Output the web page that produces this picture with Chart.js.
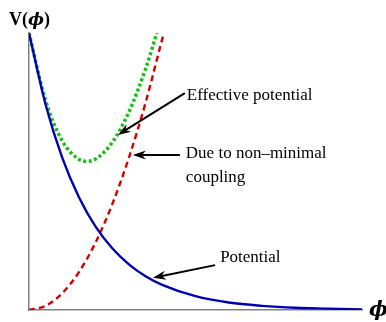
<!DOCTYPE html>
<html>
<head>
<meta charset="utf-8">
<title>V(phi)</title>
<script src="https://cdn.jsdelivr.net/npm/chart.js"></script>
<style>
  html, body { margin: 0; padding: 0; background: #fff; }
  .wrap { width: 386px; height: 322px; }
</style>
</head>
<body>
<div class="wrap"><canvas id="chart"></canvas></div>
<script>
// values (phi and V both in 0..10 units)
var phiPot = [0, 0.5, 1, 1.5, 2, 2.5, 3, 3.5, 4, 5, 6, 7, 8, 9, 10];
var vPot   = [10, 7.41, 5.49, 4.07, 3.01, 2.23, 1.65, 1.22, 0.91, 0.50, 0.27, 0.15, 0.08, 0.05, 0.02];

var phiNm  = [0, 0.5, 1, 1.5, 2, 2.5, 3, 3.5, 4, 4.05];
var vNm    = [0, 0.15, 0.61, 1.37, 2.44, 3.82, 5.5, 7.48, 9.78, 10];

var phiEff = [0, 0.5, 1, 1.5, 1.72, 2, 2.5, 3, 3.5, 3.84];
var vEff   = [10, 7.56, 6.10, 5.44, 5.37, 5.45, 6.05, 7.15, 8.70, 10];

// annotation labels: text lines, text anchor, arrow tail and tip (data units)
var notes = [
  { lines: ["Effective potential"], at: [4.74, 7.58], from: [4.68, 7.83], to: [2.67, 6.32] },
  { lines: ["Due to non\u2013minimal", "coupling"], at: [4.71, 5.5], from: [4.53, 5.6], to: [3.12, 5.6] },
  { lines: ["Potential"], at: [5.74, 1.73], from: [5.59, 1.62], to: [3.72, 1.16] }
];

function pts(xs, ys) {
  return xs.map(function(x, i) { return { x: x, y: ys[i] }; });
}

var annotate = {
  id: "annotate",
  afterDraw: function(chart) {
    var ctx = chart.ctx, sx = chart.scales.x, sy = chart.scales.y;
    var area = chart.chartArea;
    ctx.save();
    ctx.fillStyle = "#000";
    ctx.strokeStyle = "#000";
    ctx.textBaseline = "alphabetic";
    ctx.font = "17px 'Liberation Serif', serif";
    notes.forEach(function(n) {
      var tx = sx.getPixelForValue(n.at[0]), ty = sy.getPixelForValue(n.at[1]);
      n.lines.forEach(function(l, i) { ctx.fillText(l, tx, ty + i * 24); });
      var x1 = sx.getPixelForValue(n.from[0]), y1 = sy.getPixelForValue(n.from[1]);
      var x2 = sx.getPixelForValue(n.to[0]), y2 = sy.getPixelForValue(n.to[1]);
      var a = Math.atan2(y2 - y1, x2 - x1);
      ctx.lineWidth = 2;
      ctx.beginPath();
      ctx.moveTo(x1, y1);
      ctx.lineTo(x2 - 8 * Math.cos(a), y2 - 8 * Math.sin(a));
      ctx.stroke();
      ctx.beginPath();
      ctx.moveTo(x2, y2);
      ctx.lineTo(x2 - 13 * Math.cos(a) + 4.5 * Math.sin(a), y2 - 13 * Math.sin(a) - 4.5 * Math.cos(a));
      ctx.lineTo(x2 - 9 * Math.cos(a), y2 - 9 * Math.sin(a));
      ctx.lineTo(x2 - 13 * Math.cos(a) - 4.5 * Math.sin(a), y2 - 13 * Math.sin(a) + 4.5 * Math.cos(a));
      ctx.closePath();
      ctx.fill();
    });
    // axis names
    ctx.font = "bold 18px 'Liberation Serif', serif";
    ctx.fillText("V(", 9, 25);
    var w = ctx.measureText("V(").width;
    ctx.font = "bold italic 17px 'DejaVu Serif', serif";
    ctx.fillText("\u03D5", 9 + w, 25);
    var w2 = ctx.measureText("\u03D5").width;
    ctx.font = "bold 18px 'Liberation Serif', serif";
    ctx.fillText(")", 9 + w + w2, 25);
    ctx.font = "bold italic 20px 'DejaVu Serif', serif";
    ctx.fillText("\u03D5", area.right + 7, area.bottom + 6);
    ctx.restore();
  }
};

var chart = new Chart(document.getElementById("chart"), {
  type: "scatter",
  data: {
    datasets: [
      { label: "Potential", data: pts(phiPot, vPot), borderColor: "#0000b0", borderWidth: 2.4 },
      { label: "Due to non-minimal coupling", data: pts(phiNm, vNm), borderColor: "#d40000", borderWidth: 2.4, borderDash: [6, 4] },
      { label: "Effective potential", data: pts(phiEff, vEff), borderColor: "#16c016", borderWidth: 3.5, borderDash: [3, 2.5] }
    ]
  },
  options: {
    responsive: true,
    maintainAspectRatio: false,
    animation: false,
    layout: { padding: { left: 29, right: 24, top: 33, bottom: 12 } },
    elements: {
      point: { radius: 0, hoverRadius: 0 },
      line: { cubicInterpolationMode: "monotone", fill: false }
    },
    datasets: { scatter: { showLine: true } },
    plugins: { legend: { display: false }, tooltip: { enabled: false } },
    scales: {
      x: {
        type: "linear", min: 0, max: 10,
        grid: { display: false, drawTicks: false },
        ticks: { display: false },
        border: { display: true, color: "#808080", width: 1.5 }
      },
      y: {
        type: "linear", min: 0, max: 10,
        grid: { display: false, drawTicks: false },
        ticks: { display: false },
        border: { display: true, color: "#808080", width: 1.5 }
      }
    }
  },
  plugins: [annotate]
});
</script>
</body>
</html>
